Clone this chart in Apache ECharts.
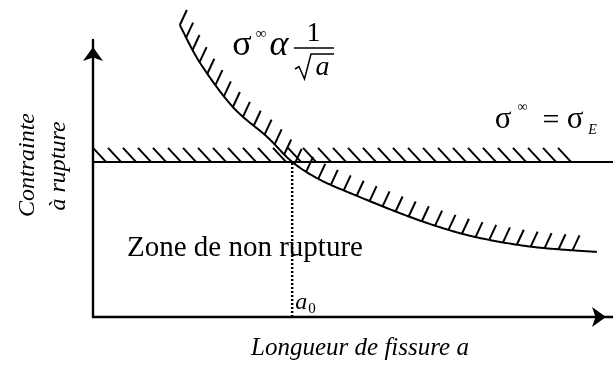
<!DOCTYPE html>
<html>
<head>
<meta charset="utf-8">
<script src="https://cdn.jsdelivr.net/npm/echarts@6/dist/echarts.min.js"></script>
<style>
  html, body { margin: 0; padding: 0; background: #fff; }
  #chart { width: 613px; height: 367px; }
</style>
</head>
<body>
<div id="chart"></div>
<script>
// Rupture boundary sigma ∝ 1/sqrt(a): crack length vs. stress (arbitrary units)
const crackLength   = [16.7, 20.6, 26.9, 33.5, 38.3, 43.7, 50.8, 59.0, 65.4, 71.9, 78.3, 84.6, 91.2, 96.9];
const ruptureStress = [105.4, 91.7, 75.8, 65.0, 56.0, 49.5, 43.7, 37.5, 33.2, 29.6, 27.1, 25.3, 24.2, 23.5];
// Yield stress level sigma_E and the crack length a0 where both limits meet
const yieldStress = 56;
const criticalLength = 38.3;
const xExtent = [0, 100];
const yExtent = [0, 100];

const SERIF = '"Liberation Serif", "Times New Roman", serif';
const INK = '#000';

// Catmull-Rom sampling of a pixel polyline
function sampleSpline(pts, steps) {
  const out = [];
  for (let i = 0; i < pts.length - 1; i++) {
    const p0 = pts[i - 1] || pts[i];
    const p1 = pts[i];
    const p2 = pts[i + 1];
    const p3 = pts[i + 2] || pts[i + 1];
    for (let s = 0; s < steps; s++) {
      const t = s / steps, t2 = t * t, t3 = t2 * t;
      const f = (a, b, c, d) => 0.5 * ((2 * b) + (-a + c) * t + (2 * a - 5 * b + 4 * c - d) * t2 + (-a + 3 * b - 3 * c + d) * t3);
      out.push([f(p0[0], p1[0], p2[0], p3[0]), f(p0[1], p1[1], p2[1], p3[1])]);
    }
  }
  out.push(pts[pts.length - 1]);
  return out;
}

// Short strokes along a path, every `step` px, offset by vector `d`
function hatchAlong(path, step, startAt, tailGap, d, width) {
  const lens = [0];
  for (let i = 1; i < path.length; i++) {
    lens.push(lens[i - 1] + Math.hypot(path[i][0] - path[i - 1][0], path[i][1] - path[i - 1][1]));
  }
  const total = lens[lens.length - 1];
  const strokes = [];
  let j = 1;
  for (let s = startAt; s <= total - tailGap; s += step) {
    while (j < path.length - 1 && lens[j] < s) j++;
    const seg = lens[j] - lens[j - 1] || 1;
    const k = (s - lens[j - 1]) / seg;
    const x = path[j - 1][0] + (path[j][0] - path[j - 1][0]) * k;
    const y = path[j - 1][1] + (path[j][1] - path[j - 1][1]) * k;
    strokes.push({
      type: 'line',
      shape: { x1: x, y1: y, x2: x + d[0], y2: y + d[1] },
      style: { stroke: INK, lineWidth: width }
    });
  }
  return strokes;
}

function renderLimits(params, api) {
  if (params.dataIndex === 0) {
    // rupture curve with its hatched (failure) side
    const pts = crackLength.map((a, i) => api.coord([a, ruptureStress[i]]));
    const curve = sampleSpline(pts, 24);
    const children = [{
      type: 'polyline',
      shape: { points: curve },
      style: { stroke: INK, lineWidth: 2, fill: null }
    }].concat(hatchAlong(curve, 14, 0, 22, [7, -15], 2));
    return { type: 'group', children: children };
  }
  // yield stress line with hatches above it
  const a = api.coord([xExtent[0], yieldStress]);
  const b = api.coord([xExtent[1], yieldStress]);
  const children = [{
    type: 'line',
    shape: { x1: a[0], y1: a[1], x2: b[0], y2: b[1] },
    style: { stroke: INK, lineWidth: 2 }
  }].concat(hatchAlong([a, b], 15, 13, 40, [-13, -14], 2));
  return { type: 'group', children: children };
}

const chart = echarts.init(document.getElementById('chart'), null, { renderer: 'canvas' });

const axisCommon = {
  type: 'value',
  axisTick: { show: false },
  axisLabel: { show: false },
  splitLine: { show: false },
  axisLine: {
    show: true,
    onZero: false,
    symbol: ['none', 'arrow'],
    symbolSize: [15, 14],
    symbolOffset: [0, -7],
    lineStyle: { color: INK, width: 2.4 }
  }
};

chart.setOption({
  backgroundColor: '#fff',
  animation: false,
  grid: { left: 93, right: 0, top: 40, bottom: 50 },
  xAxis: Object.assign({}, axisCommon, { min: xExtent[0], max: xExtent[1] }),
  yAxis: Object.assign({}, axisCommon, { min: yExtent[0], max: yExtent[1] }),
  series: [
    {
      type: 'line',
      data: [[criticalLength, yExtent[0]], [criticalLength, yieldStress]],
      symbol: 'none',
      lineStyle: { color: INK, width: 2.5, type: [2, 2] },
      z: 1
    },
    {
      type: 'custom',
      renderItem: renderLimits,
      data: [[crackLength[0], ruptureStress[0]], [xExtent[0], yieldStress]],
      clip: false,
      z: 2
    }
  ]
});

const a0px = chart.convertToPixel({ gridIndex: 0 }, [criticalLength, yExtent[0]]);

function txt(text, x, y, size, opts) {
  opts = opts || {};
  return {
    type: 'text',
    x: x, y: y,
    rotation: opts.rotation || 0,
    style: {
      text: text,
      font: (opts.italic ? 'italic ' : '') + size + 'px ' + SERIF,
      fill: INK,
      align: opts.align || 'center',
      verticalAlign: 'middle'
    }
  };
}

chart.setOption({
  graphic: [
    // sigma^inf ∝ 1/sqrt(a)
    txt('σ', 242, 46, 36),
    txt('∞', 261, 34, 15),
    txt('α', 279, 46, 36, { italic: true }),
    txt('1', 313.5, 34, 28),
    { type: 'line', shape: { x1: 294, y1: 48, x2: 334, y2: 48 }, style: { stroke: INK, lineWidth: 1.5 } },
    { type: 'polyline', shape: { points: [[295, 69], [299, 66.5], [304.5, 79], [311, 54], [334, 54]] },
      style: { stroke: INK, lineWidth: 1.5, fill: null } },
    txt('a', 322.5, 68, 28, { italic: true }),
    // sigma^inf = sigma_E
    txt('σ', 503, 120, 31),
    txt('∞', 522.5, 107, 14),
    txt('=', 551, 121, 30),
    txt('σ', 575, 120, 31),
    txt('E', 592.5, 130, 14, { italic: true }),
    // zone label
    txt('Zone de non rupture', 127, 248, 29, { align: 'left' }),
    // a0 marker
    txt('a', a0px[0] + 3, a0px[1] - 14, 24, { italic: true, align: 'left' }),
    txt('0', a0px[0] + 16, a0px[1] - 8, 15, { align: 'left' }),
    // axis titles
    txt('Longueur de fissure a', 360, 348, 25, { italic: true }),
    txt('Contrainte', 28, 165, 24, { italic: true, rotation: Math.PI / 2 }),
    txt('à rupture', 59, 166, 24, { italic: true, rotation: Math.PI / 2 })
  ]
});
</script>
</body>
</html>
